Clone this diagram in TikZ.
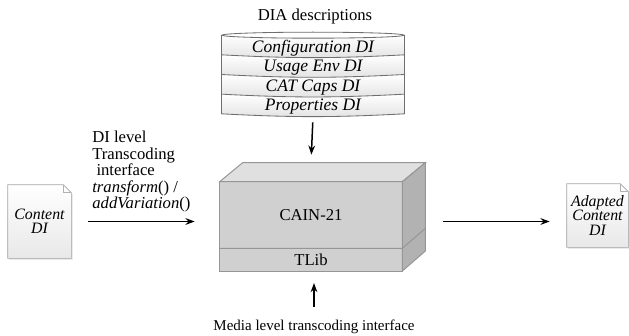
\documentclass[tikz,border=0pt]{standalone}
\usepackage{fontspec}
\setmainfont{Liberation Serif}
\usetikzlibrary{arrows.meta,positioning,backgrounds,shadows}
\definecolor{boxfront}{RGB}{208,208,208}
\definecolor{boxtop}{RGB}{224,224,224}
\definecolor{boxside}{RGB}{178,178,178}
\definecolor{boxedge}{RGB}{150,150,150}
\definecolor{rowedge}{RGB}{110,110,110}

\tikzset{
  stackrow/.style={minimum width=109.2pt, minimum height=11.4pt, inner sep=0pt,
    font=\fontsize{10.5}{11}\selectfont\itshape},
  stackline/.style={rowedge, line width=0.5pt},
  face/.style={minimum width=109.2pt, inner sep=0pt, font=\fontsize{10}{11}\selectfont},
  facedraw/.style={draw=boxedge, line width=0.6pt},
  docshape/.style={inner sep=0pt, align=center, font=\fontsize{9.5}{8.6}\selectfont\itshape},
  docdraw/.style={draw=gray!70, line width=0.4pt, top color=white, bottom color=gray!18,
    drop shadow={opacity=0.25, shadow xshift=0.8pt, shadow yshift=-0.8pt}},
  flow/.style={line width=0.9pt, -{Stealth[length=5.5pt,width=4pt]}},
}

\begin{document}
\begin{tikzpicture}[x=0.6pt, y=-0.6pt]
\useasboundingbox (0,0) rectangle (629,335);
% DIA descriptions stack
\node (diatitle) at (315,16) {\fontsize{10}{11}\selectfont DIA descriptions};
\node[stackrow] (cfg) at (313,48) {Configuration DI};
\node[stackrow, below=0pt of cfg] (usage) {Usage Env DI};
\node[stackrow, below=0pt of usage] (cat) {CAT Caps DI};
\node[stackrow, below=0pt of cat] (prop) {Properties DI};
\begin{scope}[on background layer]
\foreach \r in {cfg,usage,cat,prop}
  \shade[top color=white, bottom color=gray!22] ([yshift=1.8pt]\r.north west) to[bend right=3] ([yshift=1.8pt]\r.north east)
    -- ([yshift=1.8pt]\r.south east) to[bend left=3] ([yshift=1.8pt]\r.south west) -- cycle;
\draw[stackline, fill=white] ([yshift=1.8pt]cfg.north) ellipse [x radius=54.6pt, y radius=1.8pt];
\foreach \r in {usage,cat,prop}
  \draw[stackline] ([yshift=1.8pt]\r.north west) to[bend right=3] ([yshift=1.8pt]\r.north east);
\draw[stackline] ([yshift=1.8pt]prop.south west) to[bend right=3] ([yshift=1.8pt]prop.south east);
\draw[stackline] ([yshift=1.8pt]cfg.north west) -- ([yshift=1.8pt]prop.south west);
\draw[stackline] ([yshift=1.8pt]cfg.north east) -- ([yshift=1.8pt]prop.south east);
\end{scope}

% CAIN-21 box
\node[face, minimum height=39.6pt] (cain) at (311,215) {CAIN-21};
\node[face, minimum height=13.2pt, below=0pt of cain] (tlib) {TLib};
\begin{scope}[on background layer]
\fill[boxfront] (cain.north west) rectangle (tlib.south east);
\draw[facedraw, fill=boxtop] (cain.north west) -- ++(23,-19) -- ([shift={(23,-19)}]cain.north east) -- (cain.north east) -- cycle;
\draw[facedraw, fill=boxside] (cain.north east) -- ++(23,-19) -- ([shift={(23,-20)}]tlib.south east) -- (tlib.south east) -- cycle;
\draw[facedraw] (cain.north west) rectangle (tlib.south east);
\draw[facedraw] (cain.south west) -- (cain.south east) -- ++(23,-20);
\end{scope}
\coordinate (boxback) at ([yshift=11.4pt]cain.north);

% documents
\node[docshape, minimum width=37.8pt, minimum height=43.8pt] (src) at (39.5,221.5) {Content\\DI};
\node[docshape, minimum width=36.6pt, minimum height=37.8pt] (dst) at (597.5,215.5) {Adapted\\Content\\DI};
\begin{scope}[on background layer]
\foreach \d in {src,dst} {
  \draw[docdraw] (\d.south west) -- (\d.north west) -- ([xshift=-4.8pt]\d.north east)
    -- ([yshift=-4.8pt]\d.north east) -- (\d.south east) -- cycle;
  \draw[gray!60, line width=0.3pt] ([xshift=-4.8pt]\d.north east) -- ([xshift=-4.8pt,yshift=-4.8pt]\d.north east)
    -- ([yshift=-4.8pt]\d.north east);
}
\end{scope}

% labels
\node[anchor=north west, inner sep=0pt, align=left, font=\fontsize{10}{9.9}\selectfont] (dilabel) at (92,131)
  {DI level\\Transcoding\\\hspace{0.25em}interface\\\textit{transform}() /\\\textit{addVariation}()};
\node[inner sep=0pt, font=\fontsize{9}{10}\selectfont] (media) at (314,327) {Media level transcoding interface};

% arrows
\draw[flow, shorten <=3.3pt, shorten >=4.8pt] (prop.south) -- (boxback);
\draw[flow, shorten <=10.2pt, shorten >=15pt] (src.east) -- (src.east -| cain.west);
\draw[flow, shorten <=24.6pt, shorten >=10.2pt] (src.east -| cain.east) -- (src.east -| dst.west);
\draw[flow, shorten <=7.8pt, shorten >=7.2pt] (media.north) -- (media.north |- tlib.south);
\end{tikzpicture}
\end{document}
